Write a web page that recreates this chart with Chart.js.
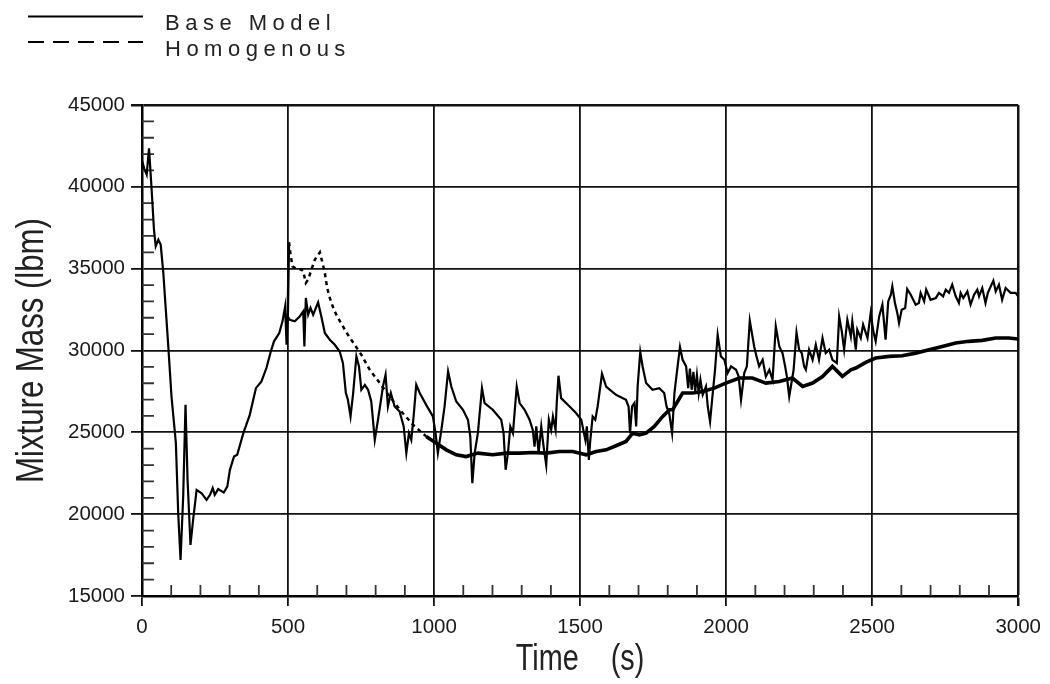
<!DOCTYPE html>
<html>
<head>
<meta charset="utf-8">
<script src="https://cdn.jsdelivr.net/npm/chart.js@4.4.0/dist/chart.umd.min.js"></script>
<style>
  html, body { margin: 0; padding: 0; background: #fff; }
  #wrap { width: 1050px; height: 684px; }
</style>
</head>
<body>
<div id="wrap"><canvas id="myChart" width="1050" height="684"></canvas></div>
<script>
// --- data ---
const baseTime = [0,8,16,24,33,41,47,56,64,73,90,101,116,124,132,141,149,156,166,175,187,204,221,233,242,249,261,280,292,301,315,326,347,369,390,409,426,441,452,470,481,490,495,499,
  506,523,540,552,556,561,569,577,586,603,614,626,643,660,677,688,698,705,714,723,734,743,751,763,774,785,797,808,820,825,834,842,852,865,882,896,905,914,922,930,939,951,973,996,1005,1013,1025,1036,1048,1059,1076,1099,1116,1124,1131,1139,1150,1164,1173,1201,1230,1238,1245,1253,1261,1270,1283,1293,1310,1327,1338,1344,1350,1358,1367,1375,1384,1393,1401,1407,1416,1420,1426,1435,1464,1486,1504,1511,1518,1523,1530,1534,1543,1552,1560,1575,1589,1623,1657,1666,1671,1678,1686,1692,1697,1706,1714,1726,1748,1771,1788,1796,1805,1815,1823,1831,1842,1851,1863,1870,1876,1882,1888,1894,1900,1906,1912,1920,1931,1937,1945,1952,1962,1971,1982,1994,2005,2017,2034,2043,2051,2062,2071,2081,2096,2104,2113,2125,2136,2148,2159,2170,2182,2193,2202,2208,2216,2231,2241,2250,2259,2267,2273,2284,2296,2307,2318,2330,2341,2353,2364,2379,2387,2396,2404,2415,2427,2432,2444,2449,2461,2469,2484,2495,2504,2512,2524,2535,2546,2555,2564,2569,2578,2586,2592,2601,2613,2620,2632,2649,2660,2666,2678,2685,2700,2718,2729,2743,2752,2763,2774,2786,2797,2803,2812,2826,2837,2849,2860,2866,2877,2888,2896,2906,2915,2923,2934,2945,2957,2974,2991,3000];
const baseMass = [41600,41100,40750,42350,39830,37380,36370,36770,36470,34740,30250,27190,24340,20060,17200,21080,26680,22100,18120,19650,21480,21280,20870,21180,21590,21180,21530,21320,21680,22710,23520,23630,24950,26070,27700,28110,28930,29940,30560,31070,31780,32690,30350,32080,
  31880,31780,32080,32390,30250,33210,32190,32600,32190,32940,32080,31070,30660,30350,29940,29230,27400,26990,25970,27400,29640,29020,27600,27900,27600,26880,24540,25770,27190,27800,28520,26580,27400,26580,26270,25360,23730,24950,24540,25970,27900,27400,26680,25970,24970,23730,25150,26580,28720,27800,26880,26380,25770,24750,21890,23730,24950,27700,26790,26380,25770,24950,22710,23730,25360,24950,27800,26790,26380,25770,25150,24130,25360,23730,25360,24130,23010,25770,25150,25970,25150,26790,28460,27090,26580,26180,25770,25150,24540,25360,23320,24340,25970,25770,26580,28580,27800,27290,26990,26580,24950,26580,26790,25360,27800,29900,29020,28010,27600,27700,27400,26580,26180,24950,27400,28620,30210,29430,29030,27700,28900,27600,28700,27500,28500,27400,28200,27300,27800,26580,25660,26990,28820,30960,29640,29430,28620,29030,28820,28410,26990,28620,29030,31820,30250,29640,29030,29430,28410,28820,28210,31470,30250,29840,29030,28410,27190,28820,31100,30050,29840,29030,28820,30050,29430,30350,29430,30760,29840,30050,29430,29230,32080,31170,30050,31880,30860,31780,30050,31270,30760,31580,30760,32290,31170,30560,32080,32800,30660,33000,33410,33920,32900,32290,31680,32490,32600,33760,33410,32800,32900,33520,33000,33720,33100,33210,33520,33310,33720,33520,34020,33310,32900,33520,33210,33610,32800,33410,33720,33310,33820,32900,33520,33920,34270,33610,34020,33100,33820,33520,33520,33310,33200];

const homTime = [499,503,508,515,529,546,552,561,569,580,592,609,618,626,634,643,657,671,688,705,728,751,780,814,848,888,928,973,1008,1042,1076,1110,1150,1201,1247,1293,1338,1384,1429,1475,1521,1555,1589,1623,1657,1680,1703,1726,1754,1783,1806,1817,1851,1885,1920,1959,1999,2045,2090,2136,2182,2227,2262,2296,2330,2364,2398,2427,2444,2478,2512,2558,2603,2649,2695,2740,2786,2831,2877,2923,2968,3000];
const homMass = [32080,36610,35960,35140,34980,34940,34840,34130,34330,34940,35550,36000,35350,34740,33820,33210,32490,31990,31470,30960,30350,29740,28820,28010,27190,26270,25460,24750,24340,23930,23630,23520,23730,23630,23730,23730,23770,23730,23830,23830,23630,23830,23930,24180,24440,24950,24850,24950,25360,25970,26380,26380,27400,27400,27500,27700,28010,28320,28320,28010,28110,28320,27800,28010,28410,29030,28420,28820,28930,29270,29540,29640,29680,29840,30050,30250,30460,30560,30620,30760,30760,30700];

const seriesNames = ["Base Model", "Homogenous"];
const xTicks = [0, 500, 1000, 1500, 2000, 2500, 3000];
const yTicks = [15000, 20000, 25000, 30000, 35000, 40000, 45000];
const xMinor = [100,200,300,400,600,700,800,900,1100,1200,1300,1400,1600,1700,1800,1900,2100,2200,2300,2400,2600,2700,2800,2900];
const yMinor = [16000,17000,18000,19000,21000,22000,23000,24000,26000,27000,28000,29000,31000,32000,33000,34000,36000,37000,38000,39000,41000,42000,43000,44000];
const xTitle = "Time    (s)";
const yTitle = "Mixture Mass (lbm)";

const pts = (t, v) => t.map((x, i) => ({x: x, y: v[i]}));

// minor ticks drawn inward from the axes
const minorTicks = {
  id: "minorTicks",
  beforeDatasetsDraw(chart) {
    const {ctx, chartArea, scales} = chart;
    ctx.save();
    ctx.strokeStyle = "#333";
    ctx.lineWidth = 1.8;
    ctx.beginPath();
    xMinor.forEach(v => {
      const px = scales.x.getPixelForValue(v);
      ctx.moveTo(px, chartArea.bottom);
      ctx.lineTo(px, chartArea.bottom - 11);
    });
    yMinor.forEach(v => {
      const py = scales.y.getPixelForValue(v);
      ctx.moveTo(chartArea.left, py);
      ctx.lineTo(chartArea.left + 12, py);
    });
    ctx.stroke();
    ctx.restore();
  }
};

// axis titles in a condensed face (squeezed regular Liberation Sans)
const axisTitles = {
  id: "axisTitles",
  afterDraw(chart) {
    const {ctx, chartArea} = chart;
    ctx.save();
    ctx.fillStyle = "#222";
    ctx.textAlign = "center";
    ctx.textBaseline = "alphabetic";
    ctx.font = "36px 'Liberation Sans', Arial, sans-serif";
    ctx.translate((chartArea.left + chartArea.right) / 2, 670);
    ctx.scale(0.8, 1);
    ctx.fillText(xTitle, 0, 0);
    ctx.restore();

    ctx.save();
    ctx.fillStyle = "#222";
    ctx.textAlign = "center";
    ctx.textBaseline = "alphabetic";
    ctx.font = "38px 'Liberation Sans', Arial, sans-serif";
    ctx.translate(43, (chartArea.top + chartArea.bottom) / 2);
    ctx.rotate(-Math.PI / 2);
    ctx.scale(0.82, 1);
    ctx.fillText(yTitle, 0, 0);
    ctx.restore();
  }
};

// legend in the top-left corner, spaced letters like the original plot
const cornerLegend = {
  id: "cornerLegend",
  afterDraw(chart) {
    const ctx = chart.ctx;
    ctx.save();
    chart.data.datasets.forEach((ds, i) => {
      const y = 16.5 + i * 25.5;
      ctx.strokeStyle = "#000";
      ctx.lineWidth = 2;
      ctx.setLineDash(i === 0 ? [] : [16, 9]);
      ctx.beginPath();
      ctx.moveTo(28, y);
      ctx.lineTo(143, y);
      ctx.stroke();
      ctx.setLineDash([]);
      ctx.fillStyle = "#222";
      ctx.font = "22px 'Liberation Sans', Arial, sans-serif";
      ctx.letterSpacing = "5.5px";
      ctx.textBaseline = "alphabetic";
      ctx.fillText(ds.label, 165, y + 13.5);
    });
    ctx.restore();
  }
};

const tickFont = {family: "'Liberation Sans', Arial, sans-serif", size: 20.5};

myChart = new Chart(document.getElementById("myChart").getContext("2d"), {
  type: "line",
  data: {
    datasets: [
      {label: seriesNames[0], data: pts(baseTime, baseMass), borderColor: "#000", borderWidth: 2.2, pointRadius: 0, tension: 0, order: 1},
      {label: seriesNames[1], data: pts(homTime, homMass), borderColor: "#000", borderWidth: 2.5, pointRadius: 0, tension: 0, order: 2,
       segment: {
         borderDash: c => c.p0.parsed.x < 960 && c.p0.parsed.x > 502 ? [4, 4] : [],
         borderWidth: c => c.p0.parsed.x < 960 ? 2.5 : 3.6
       }}
    ]
  },
  options: {
    responsive: false,
    animation: false,
    layout: {padding: {top: 105, right: 31, left: 0, bottom: 0}},
    plugins: {legend: {display: false}, tooltip: {enabled: false}},
    scales: {
      x: {
        type: "linear", min: 0, max: 3000,
        afterBuildTicks: s => { s.ticks = xTicks.map(v => ({value: v})); },
        afterFit: s => { s.height = 88; },
        ticks: {font: tickFont, color: "#1a1a1a", padding: 9, maxRotation: 0, callback: v => String(v)},
        grid: {color: "#111", lineWidth: c => (c.tick && c.tick.value === 3000 ? 2.5 : 1.8), tickLength: 10},
        border: {display: true, color: "#000", width: 2.5},
        title: {display: false}
      },
      y: {
        type: "linear", min: 15000, max: 45000,
        afterBuildTicks: s => { s.ticks = yTicks.map(v => ({value: v})); },
        afterFit: s => { s.width = 142; },
        ticks: {font: tickFont, color: "#1a1a1a", padding: 6, callback: v => String(v)},
        grid: {color: "#111", lineWidth: c => (c.tick && c.tick.value === 45000 ? 2.5 : 1.8), tickLength: 11},
        border: {display: true, color: "#000", width: 2.5},
        title: {display: false}
      }
    }
  },
  plugins: [minorTicks, axisTitles, cornerLegend]
});
</script>
</body>
</html>
